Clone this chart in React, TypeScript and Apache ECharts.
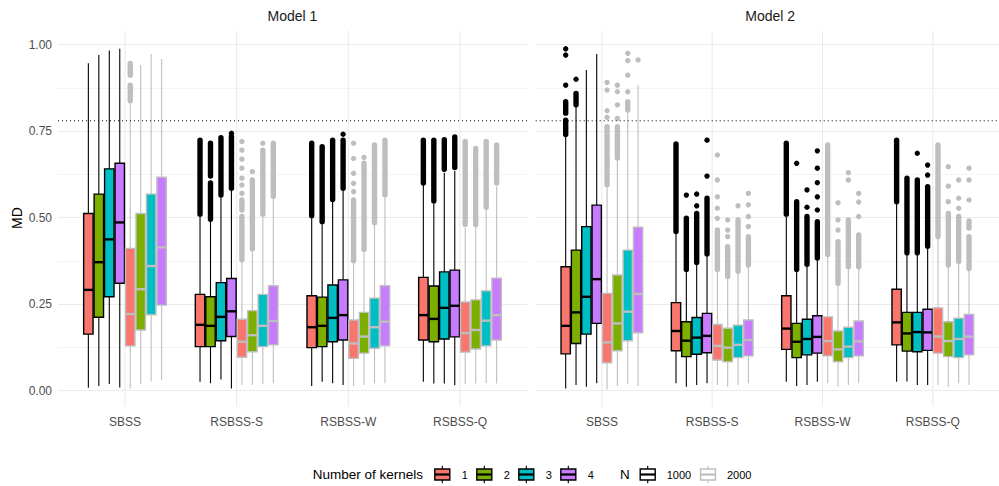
import React, { useEffect, useRef } from "react";
import * as echarts from "echarts";

// ---------------- data ----------------
const categories = ["SBSS", "RSBSS-S", "RSBSS-W", "RSBSS-Q"];
const models = ["Model 1", "Model 2"];
const kernelLabels = ["1", "2", "3", "4"];
const sampleSizes = ["1000", "2000"];
const thresholdMD = 0.78;

// per category, per kernel: [lower whisker, Q1, median, Q3, upper whisker]
const model1N1000 = [
  [[0.008, 0.163, 0.291, 0.512, 0.946], [0.013, 0.212, 0.371, 0.568, 0.97], [0.019, 0.271, 0.437, 0.641, 0.983], [0.009, 0.31, 0.486, 0.657, 0.988]],
  [[0.025, 0.127, 0.19, 0.278, 0.503], [0.021, 0.127, 0.187, 0.271, 0.488], [0.032, 0.144, 0.213, 0.312, 0.56], [0.006, 0.156, 0.229, 0.324, 0.578]],
  [[0.013, 0.124, 0.183, 0.274, 0.498], [0.025, 0.127, 0.187, 0.27, 0.481], [0.021, 0.141, 0.21, 0.305, 0.546], [0.016, 0.146, 0.218, 0.32, 0.578]],
  [[0.025, 0.146, 0.218, 0.327, 0.594], [0.02, 0.141, 0.207, 0.302, 0.541], [0.02, 0.149, 0.239, 0.343, 0.63], [0.015, 0.155, 0.245, 0.348, 0.635]],
];
const model1N2000 = [
  [[0.006, 0.129, 0.221, 0.411, 0.83], [0.019, 0.175, 0.293, 0.512, 0.941], [0.027, 0.219, 0.36, 0.568, 0.973], [0.03, 0.247, 0.414, 0.617, 0.959]],
  [[0.016, 0.096, 0.141, 0.206, 0.372], [0.016, 0.112, 0.16, 0.231, 0.404], [0.019, 0.127, 0.187, 0.278, 0.503], [0.021, 0.132, 0.201, 0.303, 0.556]],
  [[0.013, 0.093, 0.136, 0.204, 0.368], [0.016, 0.108, 0.156, 0.226, 0.401], [0.021, 0.122, 0.183, 0.267, 0.479], [0.021, 0.129, 0.199, 0.303, 0.56]],
  [[0.018, 0.111, 0.166, 0.256, 0.47], [0.02, 0.12, 0.175, 0.262, 0.475], [0.022, 0.129, 0.202, 0.288, 0.525], [0.02, 0.146, 0.218, 0.325, 0.59]],
];
const model2N1000 = [
  [[0.006, 0.106, 0.187, 0.358, 0.734], [0.016, 0.136, 0.226, 0.406, 0.821], [0.011, 0.163, 0.271, 0.474, 0.927], [0.021, 0.194, 0.322, 0.536, 0.973]],
  [[0.021, 0.115, 0.172, 0.254, 0.455], [0.011, 0.098, 0.144, 0.199, 0.344], [0.016, 0.105, 0.153, 0.211, 0.363], [0.021, 0.109, 0.158, 0.223, 0.389]],
  [[0.025, 0.119, 0.179, 0.274, 0.503], [0.013, 0.095, 0.141, 0.194, 0.344], [0.016, 0.103, 0.149, 0.206, 0.358], [0.025, 0.108, 0.155, 0.216, 0.377]],
  [[0.025, 0.132, 0.197, 0.293, 0.541], [0.026, 0.114, 0.165, 0.226, 0.392], [0.016, 0.112, 0.169, 0.226, 0.392], [0.016, 0.116, 0.168, 0.235, 0.411]],
];
const model2N2000 = [
  [[0.003, 0.08, 0.139, 0.281, 0.589], [0.013, 0.115, 0.194, 0.334, 0.667], [0.019, 0.144, 0.228, 0.406, 0.806], [0.013, 0.167, 0.279, 0.472, 0.883]],
  [[0.016, 0.088, 0.129, 0.191, 0.344], [0.011, 0.083, 0.124, 0.18, 0.324], [0.016, 0.095, 0.132, 0.189, 0.339], [0.021, 0.1, 0.146, 0.204, 0.358]],
  [[0.021, 0.1, 0.143, 0.213, 0.387], [0.011, 0.083, 0.119, 0.172, 0.305], [0.016, 0.095, 0.127, 0.183, 0.353], [0.021, 0.1, 0.142, 0.201, 0.353]],
  [[0.016, 0.108, 0.156, 0.239, 0.44], [0.011, 0.098, 0.143, 0.199, 0.358], [0.021, 0.095, 0.149, 0.209, 0.368], [0.016, 0.103, 0.156, 0.22, 0.348]],
];

// outliers per category, per kernel: runs of outlying MD values [from, to] (from === to: a single point)
const model1N1000Outliers = [
  [[], [], [], []],
  [[[0.51, 0.724]], [[0.495, 0.6], [0.62, 0.715]], [[0.565, 0.731]], [[0.585, 0.735], [0.744, 0.744]]],
  [[[0.505, 0.715]], [[0.488, 0.705]], [[0.552, 0.724]], [[0.585, 0.724], [0.741, 0.741]]],
  [[[0.6, 0.724]], [[0.548, 0.724]], [[0.64, 0.725]], [[0.645, 0.733]]],
];
const model1N2000Outliers = [
  [[[0.838, 0.883], [0.912, 0.946]], [], [], []],
  [[[0.378, 0.503], [0.522, 0.551], [0.57, 0.57], [0.594, 0.594], [0.614, 0.614], [0.643, 0.643], [0.669, 0.669], [0.695, 0.695], [0.72, 0.72]],
   [[0.41, 0.609], [0.633, 0.633]], [[0.51, 0.695], [0.715, 0.715]], [[0.562, 0.715]]],
  [[[0.375, 0.551], [0.575, 0.575], [0.599, 0.599], [0.628, 0.628], [0.671, 0.671], [0.715, 0.715]],
   [[0.408, 0.657], [0.674, 0.674]], [[0.485, 0.71]], [[0.566, 0.724]]],
  [[[0.48, 0.72]], [[0.48, 0.7]], [[0.53, 0.72]], [[0.6, 0.71]]],
];
const model2N1000Outliers = [
  [[[0.74, 0.782], [0.802, 0.835], [0.883, 0.883], [0.97, 0.97], [0.988, 0.988]], [[0.826, 0.859], [0.9, 0.9]], [], []],
  [[[0.46, 0.713]], [[0.35, 0.498], [0.565, 0.565]], [[0.37, 0.512], [0.534, 0.534], [0.568, 0.568]], [[0.395, 0.556], [0.62, 0.62], [0.724, 0.724]]],
  [[[0.51, 0.715]], [[0.35, 0.546], [0.657, 0.657]], [[0.365, 0.503], [0.53, 0.53], [0.58, 0.58]],
   [[0.383, 0.488], [0.522, 0.522], [0.56, 0.56], [0.601, 0.601], [0.643, 0.643], [0.693, 0.693]]],
  [[[0.546, 0.724]], [[0.398, 0.614]], [[0.398, 0.609], [0.686, 0.686]], [[0.417, 0.589], [0.623, 0.623], [0.652, 0.652]]],
];
const model2N2000Outliers = [
  [[[0.595, 0.763], [0.79, 0.79], [0.809, 0.809], [0.869, 0.869], [0.891, 0.891]],
   [[0.672, 0.763], [0.787, 0.787], [0.826, 0.826], [0.864, 0.864], [0.883, 0.883]],
   [[0.811, 0.835], [0.864, 0.864], [0.912, 0.912], [0.954, 0.954], [0.975, 0.975]],
   [[0.956, 0.956]]],
  [[[0.35, 0.464], [0.498, 0.498], [0.527, 0.527], [0.56, 0.56], [0.609, 0.609], [0.681, 0.681]],
   [[0.33, 0.416], [0.445, 0.445], [0.464, 0.464], [0.493, 0.493]],
   [[0.345, 0.493], [0.534, 0.534]],
   [[0.363, 0.445], [0.474, 0.474], [0.503, 0.503], [0.537, 0.537], [0.57, 0.57]]],
  [[[0.393, 0.71]], [[0.31, 0.43], [0.464, 0.464], [0.493, 0.493], [0.543, 0.543]],
   [[0.358, 0.493], [0.609, 0.609], [0.63, 0.63]], [[0.358, 0.45], [0.503, 0.503], [0.545, 0.545], [0.57, 0.57]]],
  [[[0.445, 0.71]], [[0.363, 0.512], [0.546, 0.546], [0.591, 0.591], [0.647, 0.647]],
   [[0.373, 0.503], [0.527, 0.527], [0.556, 0.556], [0.609, 0.609]],
   [[0.353, 0.445], [0.47, 0.49], [0.551, 0.551], [0.609, 0.609], [0.643, 0.643]]],
];

const boxStats = [[model1N1000, model1N2000], [model2N1000, model2N2000]];
const outlierRuns = [[model1N1000Outliers, model1N2000Outliers], [model2N1000Outliers, model2N2000Outliers]];

// ---------------- style / layout ----------------
const FONT = '"Liberation Sans", Arial, Helvetica, sans-serif';
const KERNEL_COLORS = ["#F8766D", "#7CAE00", "#00BFC4", "#C77CFF"];
const N_COLORS = ["#000000", "#BEBEBE"];
const GRID_COLOR = "#EBEBEB";
const SLOT = 0.75 / 8;
const BOX_W = SLOT * 0.9;
const X_MIN = -0.6;
const X_MAX = 3.6;
const PANEL_LEFT = [58, 535.7];
const PANEL_W = 469;
const GRID_TOP = 44.7;
const GRID_H = 345.8;
const PANEL_Y_TOP = 1.04;
const PANEL_Y_BOTTOM = -0.046;

function renderBox(params: any, api: any) {
  const c = api.value(0);
  const slot = api.value(1);
  const xv = c + (slot - 3.5) * SLOT;
  const lo = api.coord([xv, api.value(2)]);
  const q1 = api.coord([xv, api.value(3)]);
  const md = api.coord([xv, api.value(4)]);
  const q3 = api.coord([xv, api.value(5)]);
  const hi = api.coord([xv, api.value(6)]);
  const w = api.size([BOX_W, 0])[0];
  const cx = lo[0];
  const stroke = N_COLORS[Math.floor(slot / 4)];
  const fill = KERNEL_COLORS[slot % 4];
  return {
    type: "group",
    children: [
      { type: "line", shape: { x1: cx, y1: lo[1], x2: cx, y2: q1[1] }, style: { stroke, lineWidth: 1.1 } },
      { type: "line", shape: { x1: cx, y1: q3[1], x2: cx, y2: hi[1] }, style: { stroke, lineWidth: 1.1 } },
      { type: "rect", shape: { x: cx - w / 2, y: q3[1], width: w, height: q1[1] - q3[1] }, style: { fill, stroke, lineWidth: 1.4 } },
      { type: "line", shape: { x1: cx - w / 2, y1: md[1], x2: cx + w / 2, y2: md[1] }, style: { stroke, lineWidth: 2.4 } },
    ],
  };
}

function renderOutlier(params: any, api: any) {
  const c = api.value(0);
  const slot = api.value(1);
  const xv = c + (slot - 3.5) * SLOT;
  const a = api.coord([xv, api.value(2)]);
  const b = api.coord([xv, api.value(3)]);
  const color = N_COLORS[Math.floor(slot / 4)];
  if (Math.abs(a[1] - b[1]) < 0.5) {
    return { type: "circle", shape: { cx: a[0], cy: a[1], r: 2.7 }, style: { fill: color } };
  }
  return {
    type: "line",
    shape: { x1: a[0], y1: a[1], x2: b[0], y2: b[1] },
    style: { stroke: color, lineWidth: 5.4, lineCap: "round" },
  };
}

function renderFrame(params: any, api: any) {
  const i = api.value(0);
  const top = api.coord([i, PANEL_Y_TOP]);
  const bot = api.coord([i, PANEL_Y_BOTTOM]);
  return {
    type: "group",
    children: [
      { type: "line", shape: { x1: top[0], y1: top[1], x2: bot[0], y2: bot[1] }, style: { stroke: GRID_COLOR, lineWidth: 1.07 } },
      {
        type: "text",
        style: {
          text: categories[i], x: bot[0], y: bot[1] + 15.5, textAlign: "center", textVerticalAlign: "middle",
          fill: "#4D4D4D", font: `12px ${FONT}`,
        },
      },
    ],
  };
}

function renderThreshold(params: any, api: any) {
  const v = api.value(1);
  const a = api.coord([X_MIN, v]);
  const b = api.coord([X_MAX, v]);
  return {
    type: "line",
    shape: { x1: a[0], y1: a[1], x2: b[0], y2: b[1] },
    style: { stroke: "#000", lineWidth: 1, lineDash: [1, 3] },
  };
}

function legendKey(cx: number, cy: number, fill: string, stroke: string) {
  const hw = 7.5, hh = 5.5, wh = 3.3;
  return [
    { type: "line", shape: { x1: cx, y1: cy - hh - wh, x2: cx, y2: cy - hh }, style: { stroke, lineWidth: 1.1 } },
    { type: "line", shape: { x1: cx, y1: cy + hh, x2: cx, y2: cy + hh + wh }, style: { stroke, lineWidth: 1.1 } },
    { type: "rect", shape: { x: cx - hw, y: cy - hh, width: hw * 2, height: hh * 2 }, style: { fill, stroke, lineWidth: 1.4 } },
    { type: "line", shape: { x1: cx - hw, y1: cy, x2: cx + hw, y2: cy }, style: { stroke, lineWidth: 2.2 } },
  ];
}

function buildOption() {
  const grid = PANEL_LEFT.map((l) => ({ left: l, top: GRID_TOP, width: PANEL_W, height: GRID_H }));
  const xAxis = PANEL_LEFT.map((_, p) => ({ type: "value", gridIndex: p, min: X_MIN, max: X_MAX, show: false }));
  const yAxis = PANEL_LEFT.map((_, p) => ({
    type: "value", gridIndex: p, min: 0, max: 1, interval: 0.25,
    axisLine: { show: false }, axisTick: { show: false },
    axisLabel: { show: p === 0, formatter: (v: number) => v.toFixed(2), color: "#4D4D4D", fontSize: 12, fontFamily: FONT, margin: 6 },
    splitLine: { show: true, lineStyle: { color: GRID_COLOR, width: 1.07 } },
    minorTick: { show: false, splitNumber: 2 },
    minorSplitLine: { show: true, lineStyle: { color: GRID_COLOR, width: 0.55 } },
  }));

  const series: any[] = [];
  models.forEach((_, m) => {
    series.push({
      type: "custom", xAxisIndex: m, yAxisIndex: m, z: 1, silent: true,
      renderItem: renderFrame, data: categories.map((_, i) => [i, 0]),
    });
    series.push({
      type: "custom", xAxisIndex: m, yAxisIndex: m, z: 5, silent: true,
      renderItem: renderThreshold, data: [[0, thresholdMD]],
    });
    sampleSizes.forEach((__, n) => {
      const boxes: number[][] = [];
      const outs: number[][] = [];
      categories.forEach((___, c) => {
        kernelLabels.forEach((____, k) => {
          boxes.push([c, n * 4 + k, ...boxStats[m][n][c][k]]);
          outlierRuns[m][n][c][k].forEach((r: number[]) => outs.push([c, n * 4 + k, r[0], r[1]]));
        });
      });
      series.push({
        type: "custom", xAxisIndex: m, yAxisIndex: m, z: 3, silent: true,
        renderItem: renderBox, encode: { x: 0, y: [2, 3, 4, 5, 6] }, data: boxes,
      });
      series.push({
        type: "custom", xAxisIndex: m, yAxisIndex: m, z: 3, silent: true,
        renderItem: renderOutlier, encode: { x: 0, y: [2, 3] }, data: outs,
      });
    });
  });

  const graphic: any[] = [];
  models.forEach((name, m) => {
    graphic.push({
      type: "text", x: PANEL_LEFT[m] + PANEL_W / 2, y: 15.5,
      style: { text: name, textAlign: "center", textVerticalAlign: "middle", fill: "#1A1A1A", font: `14px ${FONT}` },
    });
  });
  graphic.push({
    type: "text", x: 17, y: 218, rotation: Math.PI / 2,
    style: { text: "MD", textAlign: "center", textVerticalAlign: "middle", fill: "#000", font: `14px ${FONT}` },
  });
  // legend
  const LY = 474.5;
  graphic.push({
    type: "text", x: 312.7, y: LY,
    style: { text: "Number of kernels", textAlign: "left", textVerticalAlign: "middle", fill: "#000", font: `13.5px ${FONT}` },
  });
  kernelLabels.forEach((lab, k) => {
    const cx = 442.3 + 42 * k;
    legendKey(cx, LY, KERNEL_COLORS[k], "#000").forEach((e) => graphic.push(e));
    graphic.push({
      type: "text", x: cx + 19.5, y: LY,
      style: { text: lab, textAlign: "left", textVerticalAlign: "middle", fill: "#000", font: `11px ${FONT}` },
    });
  });
  graphic.push({
    type: "text", x: 620, y: LY,
    style: { text: "N", textAlign: "left", textVerticalAlign: "middle", fill: "#000", font: `13.5px ${FONT}` },
  });
  sampleSizes.forEach((lab, n) => {
    const cx = 647.7 + 60.3 * n;
    legendKey(cx, LY, "#FFFFFF", N_COLORS[n]).forEach((e) => graphic.push(e));
    graphic.push({
      type: "text", x: cx + 19, y: LY,
      style: { text: lab, textAlign: "left", textVerticalAlign: "middle", fill: "#000", font: `11px ${FONT}` },
    });
  });

  return { animation: false, backgroundColor: "#FFFFFF", grid, xAxis, yAxis, series, graphic };
}

export default function App() {
  const ref = useRef<HTMLDivElement>(null);
  useEffect(() => {
    if (!ref.current) return;
    const chart = echarts.init(ref.current, undefined, { renderer: "svg" });
    chart.setOption(buildOption() as any);
    return () => chart.dispose();
  }, []);
  return <div ref={ref} style={{ position: "absolute", left: 0, top: 0, width: 999, height: 486 }} />;
}
